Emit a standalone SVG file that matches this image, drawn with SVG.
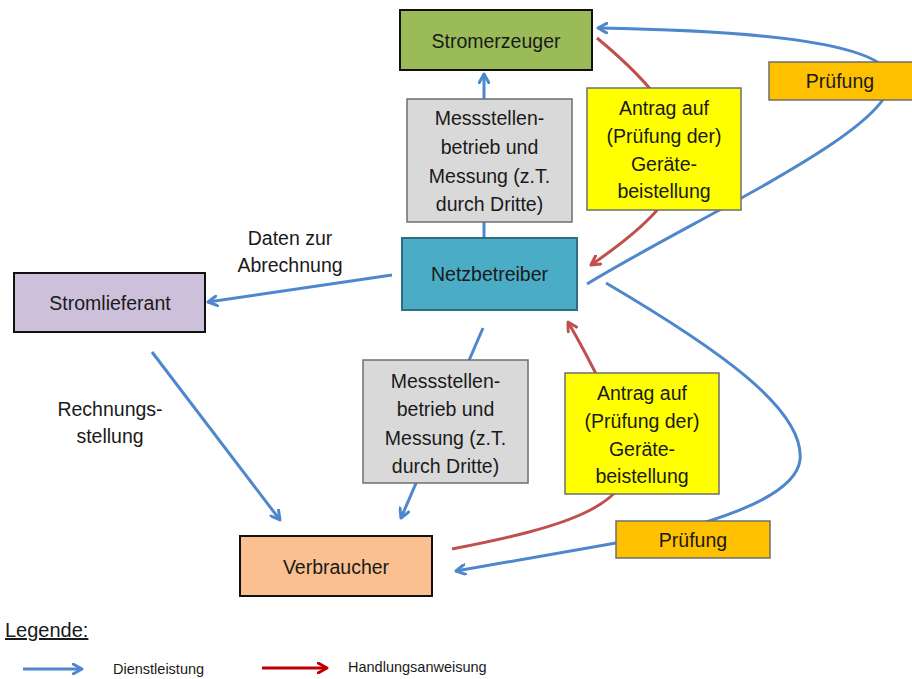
<svg xmlns="http://www.w3.org/2000/svg" width="912" height="679" viewBox="0 0 912 679">
  <style>
    text { font-family: "Liberation Sans", Arial, sans-serif; fill: #1a1a1a; text-anchor: middle; }
    .t { font-size: 19.5px; }
    .s { text-anchor: start; }
    .box-dark { stroke: #111; stroke-width: 2; }
    .box-soft { stroke: #6e6e6e; stroke-width: 1.5; }
    .blue { fill: none; stroke: #4F87CC; stroke-width: 3; }
    .red { fill: none; stroke: #C0504D; stroke-width: 3; }
  </style>
  <defs>
    <marker id="ab" viewBox="0 0 12 12" refX="10" refY="6" markerWidth="12" markerHeight="12" markerUnits="userSpaceOnUse" orient="auto">
      <path d="M1,1 L10,6 L1,11" fill="none" stroke="#4F87CC" stroke-width="3" stroke-linecap="round" stroke-linejoin="round"/>
    </marker>
    <marker id="ar" viewBox="0 0 12 12" refX="10" refY="6" markerWidth="12" markerHeight="12" markerUnits="userSpaceOnUse" orient="auto">
      <path d="M1,1 L10,6 L1,11" fill="none" stroke="#C0504D" stroke-width="3" stroke-linecap="round" stroke-linejoin="round"/>
    </marker>
    <marker id="ar2" viewBox="0 0 12 12" refX="10" refY="6" markerWidth="12" markerHeight="12" markerUnits="userSpaceOnUse" orient="auto">
      <path d="M1,1 L10,6 L1,11" fill="none" stroke="#C00000" stroke-width="3" stroke-linecap="round" stroke-linejoin="round"/>
    </marker>
  </defs>

  <rect width="912" height="679" fill="#ffffff"/>

  <!-- connectors (drawn beneath the boxes) -->
  <g id="connectors">
    <path class="blue" d="M484,238 L484,74" marker-end="url(#ab)"/>
    <path class="blue" d="M587,284 C700,215 905,125 890,75 C875,38 720,30 598,28" marker-end="url(#ab)"/>
    <path class="red" d="M597,38 C720,140 700,190 591,265" marker-end="url(#ar)"/>
    <path class="blue" d="M392,275 L208,302" marker-end="url(#ab)"/>
    <path class="blue" d="M152,352 L280,520" marker-end="url(#ab)"/>
    <path class="blue" d="M483,328 L401,518" marker-end="url(#ab)"/>
    <path class="red" d="M452,549 C560,528 650,505 625,440 C612,405 590,360 568,322" marker-end="url(#ar)"/>
    <path class="blue" d="M606,283 C720,350 805,410 800,460 C795,500 700,528 616,543 L456,571" marker-end="url(#ab)"/>
  </g>

  <g id="stromerzeuger">
    <rect x="400" y="10" width="192" height="60" fill="#9BBB59" class="box-dark"/>
    <text x="496" y="48" class="t" font-size="20">Stromerzeuger</text>
  </g>

  <g id="messung-oben">
    <rect x="407" y="99" width="165" height="123" fill="#D9D9D9" class="box-soft"/>
    <text x="489.5" y="125" class="t">Messstellen-</text>
    <text x="489.5" y="154" class="t">betrieb und</text>
    <text x="489.5" y="183" class="t">Messung (z.T.</text>
    <text x="489.5" y="211" class="t">durch Dritte)</text>
  </g>

  <g id="netzbetreiber">
    <rect x="402" y="238" width="175" height="72" fill="#4BACC6" stroke="#2E6F86" stroke-width="2"/>
    <text x="489.5" y="281" class="t">Netzbetreiber</text>
  </g>

  <g id="antrag-oben">
    <rect x="587" y="88" width="154" height="122" fill="#FFFF00" class="box-soft"/>
    <text x="664" y="115" class="t">Antrag auf</text>
    <text x="664" y="143" class="t">(Prüfung der)</text>
    <text x="664" y="171" class="t">Geräte-</text>
    <text x="664" y="198" class="t">beistellung</text>
  </g>

  <g id="pruefung-oben">
    <rect x="769" y="62" width="145" height="38" fill="#FFC000" class="box-soft"/>
    <text x="840" y="88" class="t">Prüfung</text>
  </g>

  <g id="stromlieferant">
    <rect x="14" y="273" width="191" height="59" fill="#CCC0DA" class="box-dark"/>
    <text x="110" y="310" class="t">Stromlieferant</text>
  </g>

  <g id="label-daten">
    <text x="290" y="245" class="t">Daten zur</text>
    <text x="290" y="272" class="t">Abrechnung</text>
  </g>

  <g id="label-rechnung">
    <text x="110" y="416" class="t">Rechnungs-</text>
    <text x="110" y="443" class="t">stellung</text>
  </g>

  <g id="messung-unten">
    <rect x="363" y="360" width="165" height="123" fill="#D9D9D9" class="box-soft"/>
    <text x="445.5" y="388" class="t">Messstellen-</text>
    <text x="445.5" y="416" class="t">betrieb und</text>
    <text x="445.5" y="445" class="t">Messung (z.T.</text>
    <text x="445.5" y="473" class="t">durch Dritte)</text>
  </g>

  <g id="antrag-unten">
    <rect x="565" y="373" width="154" height="121" fill="#FFFF00" class="box-soft"/>
    <text x="642" y="400" class="t">Antrag auf</text>
    <text x="642" y="428" class="t">(Prüfung der)</text>
    <text x="642" y="456" class="t">Geräte-</text>
    <text x="642" y="483" class="t">beistellung</text>
  </g>

  <g id="pruefung-unten">
    <rect x="616" y="521" width="154" height="37" fill="#FFC000" class="box-soft"/>
    <text x="693" y="547" class="t">Prüfung</text>
  </g>

  <g id="verbraucher">
    <rect x="240" y="536" width="192" height="60" fill="#FAC090" class="box-dark"/>
    <text x="336" y="574" class="t">Verbraucher</text>
  </g>

  <!-- legend -->
  <g id="legende">
    <text x="5" y="637" class="s" font-size="20" text-decoration="underline">Legende:</text>
    <path class="blue" d="M23,669 L82,669" marker-end="url(#ab)"/>
    <text x="113" y="674" class="s" font-size="14.5">Dienstleistung</text>
    <path d="M262,668 L327,668" fill="none" stroke="#C00000" stroke-width="3" marker-end="url(#ar2)"/>
    <text x="348" y="672" class="s" font-size="14.5">Handlungsanweisung</text>
  </g>
</svg>
